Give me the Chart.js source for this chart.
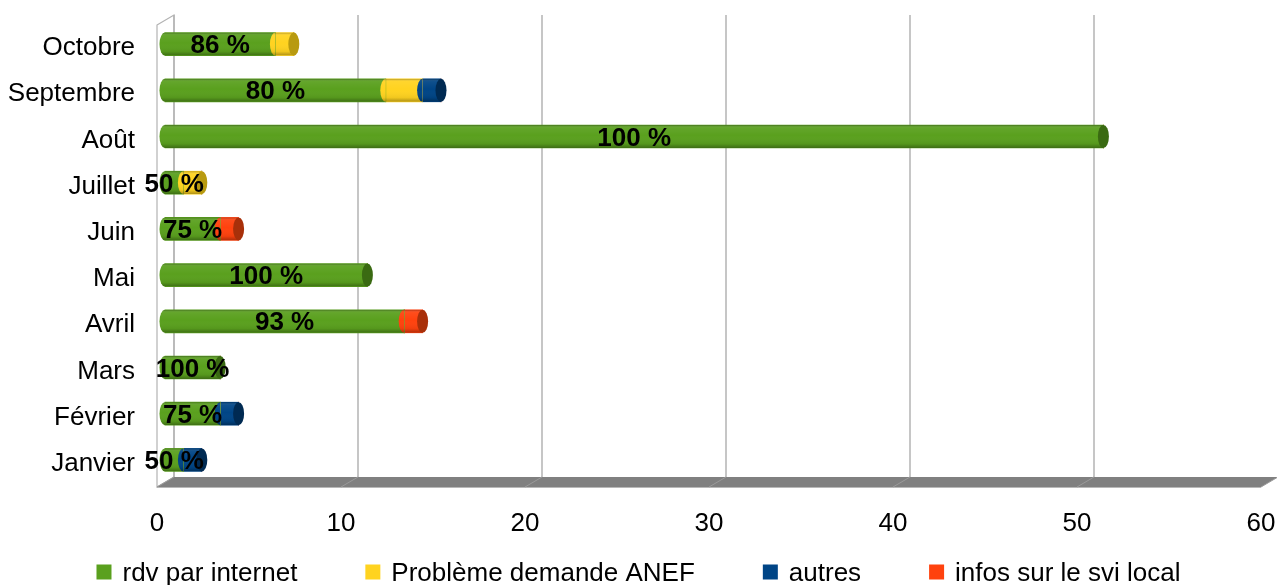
<!DOCTYPE html>
<html>
<head>
<meta charset="utf-8">
<script src="https://cdn.jsdelivr.net/npm/chart.js@4.4.0/dist/chart.umd.min.js"></script>
<style>
html, body { margin: 0; padding: 0; background: #fff; }
</style>
</head>
<body>
<canvas id="rdv-chart" width="1277" height="585"></canvas>
<script>
// nombre d'appels par motif et par mois
var mois = ['Octobre', 'Septembre', 'Août', 'Juillet', 'Juin', 'Mai', 'Avril', 'Mars', 'Février', 'Janvier'];
var rdvInternet = [6, 12, 51, 1, 3, 11, 13, 3, 3, 1];
var problemeAnef = [1, 2, 0, 1, 0, 0, 0, 0, 0, 0];
var autres = [0, 1, 0, 0, 0, 0, 0, 0, 1, 1];
var infosSvi = [0, 0, 0, 0, 1, 0, 1, 0, 0, 0];
var axeTicks = [0, 10, 20, 30, 40, 50, 60];

var couleurs = ['#5aa01e', '#ffd320', '#004586', '#ff420e'];
var chapeaux = ['#3a6a12', '#b89a10', '#002a52', '#a8300a'];

Chart.defaults.font.family = "'Liberation Sans', Arial, sans-serif";
Chart.defaults.font.size = 26;
Chart.defaults.color = '#000';

// profondeur de la vue 3D
var dx = 17, dy = -10;
var rx = 5.5;

var cylindres = {
	id: 'cylindres',
	beforeDatasetsDraw: function(chart) {
		var ctx = chart.ctx;
		var a = chart.chartArea;
		var xs = chart.scales.x;

		ctx.save();
		// paroi gauche
		ctx.beginPath();
		ctx.moveTo(a.left, a.top);
		ctx.lineTo(a.left + dx, a.top + dy);
		ctx.lineTo(a.left + dx, a.bottom + dy);
		ctx.lineTo(a.left, a.bottom);
		ctx.closePath();
		ctx.strokeStyle = '#b3b3b3';
		ctx.lineWidth = 1.2;
		ctx.stroke();

		// lignes de grille sur le fond
		axeTicks.forEach(function(v) {
			var x = xs.getPixelForValue(v) + dx;
			ctx.beginPath();
			ctx.moveTo(x, a.top + dy);
			ctx.lineTo(x, a.bottom + dy);
			ctx.strokeStyle = '#b3b3b3';
			ctx.lineWidth = 1.5;
			ctx.stroke();
		});

		// sol
		ctx.beginPath();
		ctx.moveTo(a.left, a.bottom);
		ctx.lineTo(a.right, a.bottom);
		ctx.lineTo(a.right + dx, a.bottom + dy);
		ctx.lineTo(a.left + dx, a.bottom + dy);
		ctx.closePath();
		ctx.fillStyle = '#808080';
		ctx.fill();
		ctx.strokeStyle = '#b8b8b8';
		ctx.lineWidth = 1;
		ctx.beginPath();
		ctx.moveTo(a.left, a.bottom + 0.5);
		ctx.lineTo(a.right, a.bottom + 0.5);
		ctx.stroke();
		axeTicks.forEach(function(v) {
			var x = xs.getPixelForValue(v);
			ctx.beginPath();
			ctx.moveTo(x, a.bottom);
			ctx.lineTo(x + dx, a.bottom + dy);
			ctx.strokeStyle = '#9a9a9a';
			ctx.stroke();
		});
		ctx.restore();

		// les barres sont à mi-profondeur
		ctx.save();
		ctx.translate(8, -4);
	},
	afterDatasetsDraw: function(chart) {
		var ctx = chart.ctx;
		var datasets = chart.data.datasets;

		for (var j = 0; j < mois.length; j++) {
			var segs = [];
			datasets.forEach(function(ds, i) {
				if (ds.data[j] > 0) {
					var p = chart.getDatasetMeta(i).data[j].getProps(['x', 'y', 'base', 'height'], true);
					segs.push({ p: p, i: i });
				}
			});
			if (!segs.length) continue;

			var h = segs[0].p.height;
			var y = segs[0].p.y;
			var top = y - h / 2;
			var x0 = segs[0].p.base;
			var last = segs[segs.length - 1];
			var x1 = last.p.x;

			// bord avant arrondi de chaque tronçon
			segs.forEach(function(s) {
				ctx.beginPath();
				ctx.ellipse(s.p.base, y, rx, h / 2, 0, Math.PI / 2, Math.PI * 1.5);
				ctx.closePath();
				ctx.fillStyle = couleurs[s.i];
				ctx.fill();
			});

			// ombrage du cylindre
			ctx.save();
			ctx.beginPath();
			ctx.ellipse(x0, y, rx, h / 2, 0, Math.PI / 2, Math.PI * 1.5);
			ctx.lineTo(x1, top);
			ctx.lineTo(x1, top + h);
			ctx.closePath();
			ctx.clip();
			var g = ctx.createLinearGradient(0, top, 0, top + h);
			g.addColorStop(0, 'rgba(0,0,0,0.30)');
			g.addColorStop(0.12, 'rgba(255,255,255,0.06)');
			g.addColorStop(0.45, 'rgba(255,255,255,0)');
			g.addColorStop(0.82, 'rgba(0,0,0,0.06)');
			g.addColorStop(1, 'rgba(0,0,0,0.32)');
			ctx.fillStyle = g;
			ctx.fillRect(x0 - rx, top, x1 - x0 + rx, h);
			ctx.restore();

			// face du bout
			ctx.beginPath();
			ctx.ellipse(x1, y, rx, h / 2, 0, 0, Math.PI * 2);
			ctx.fillStyle = chapeaux[last.i];
			ctx.fill();
		}

		// pourcentage de rdv par internet
		ctx.font = "bold 26px 'Liberation Sans', Arial, sans-serif";
		ctx.fillStyle = '#000';
		ctx.textAlign = 'center';
		ctx.textBaseline = 'alphabetic';
		var meta = chart.getDatasetMeta(0);
		for (var k = 0; k < mois.length; k++) {
			var total = rdvInternet[k] + problemeAnef[k] + autres[k] + infosSvi[k];
			var pct = Math.round(rdvInternet[k] / total * 100);
			var el = meta.data[k].getProps(['x', 'y', 'base'], true);
			ctx.fillText(pct + ' %', (el.x + el.base) / 2, el.y + 9);
		}

		ctx.restore();
	},
	afterDraw: function(chart) {
		// légende
		var ctx = chart.ctx;
		var items = chart.data.datasets.map(function(ds, i) { return { text: ds.label, color: couleurs[i] }; });
		ctx.save();
		ctx.font = "26px 'Liberation Sans', Arial, sans-serif";
		var box = 15, gapText = 11, gapItem = 68;
		var total = 0;
		items.forEach(function(it, i) {
			it.w = box + gapText + ctx.measureText(it.text).width;
			total += it.w + (i > 0 ? gapItem : 0);
		});
		var x = (chart.width - total) / 2;
		var yc = 572;
		ctx.textAlign = 'left';
		ctx.textBaseline = 'alphabetic';
		items.forEach(function(it) {
			ctx.fillStyle = it.color;
			ctx.fillRect(x, yc - box / 2, box, box);
			ctx.fillStyle = '#000';
			ctx.fillText(it.text, x + box + gapText, yc + 9);
			x += it.w + gapItem;
		});
		ctx.restore();
	}
};

function serie(label, data, i) {
	return {
		label: label,
		data: data,
		backgroundColor: couleurs[i],
		borderWidth: 0,
		barThickness: 23,
		clip: false
	};
}

function sansMarge(s) {
	s.paddingTop = 0;
	s.paddingBottom = 0;
	s.paddingLeft = 0;
	s.paddingRight = 0;
}

var ctx = document.getElementById('rdv-chart').getContext('2d');
var rdvChart = new Chart(ctx, {
	type: 'bar',
	data: {
		labels: mois,
		datasets: [
			serie('rdv par internet', rdvInternet, 0),
			serie('Problème demande ANEF', problemeAnef, 1),
			serie('autres', autres, 2),
			serie('infos sur le svi local', infosSvi, 3)
		]
	},
	options: {
		indexAxis: 'y',
		responsive: false,
		animation: false,
		layout: { padding: { top: 25, right: 16, left: 0, bottom: 0 } },
		plugins: {
			legend: { display: false },
			tooltip: { enabled: false }
		},
		scales: {
			x: {
				stacked: true,
				min: 0,
				max: 60,
				afterBuildTicks: function(s) {
					s.ticks = axeTicks.map(function(v) { return { value: v }; });
				},
				ticks: { padding: 21, maxRotation: 0 },
				grid: { display: false, drawTicks: false },
				border: { display: false },
				afterFit: function(s) { s.height = 98; sansMarge(s); }
			},
			y: {
				stacked: true,
				ticks: { padding: 22 },
				grid: { display: false, drawTicks: false },
				border: { display: false },
				afterFit: function(s) { s.width = 157; sansMarge(s); }
			}
		}
	},
	plugins: [cylindres]
});
</script>
</body>
</html>
